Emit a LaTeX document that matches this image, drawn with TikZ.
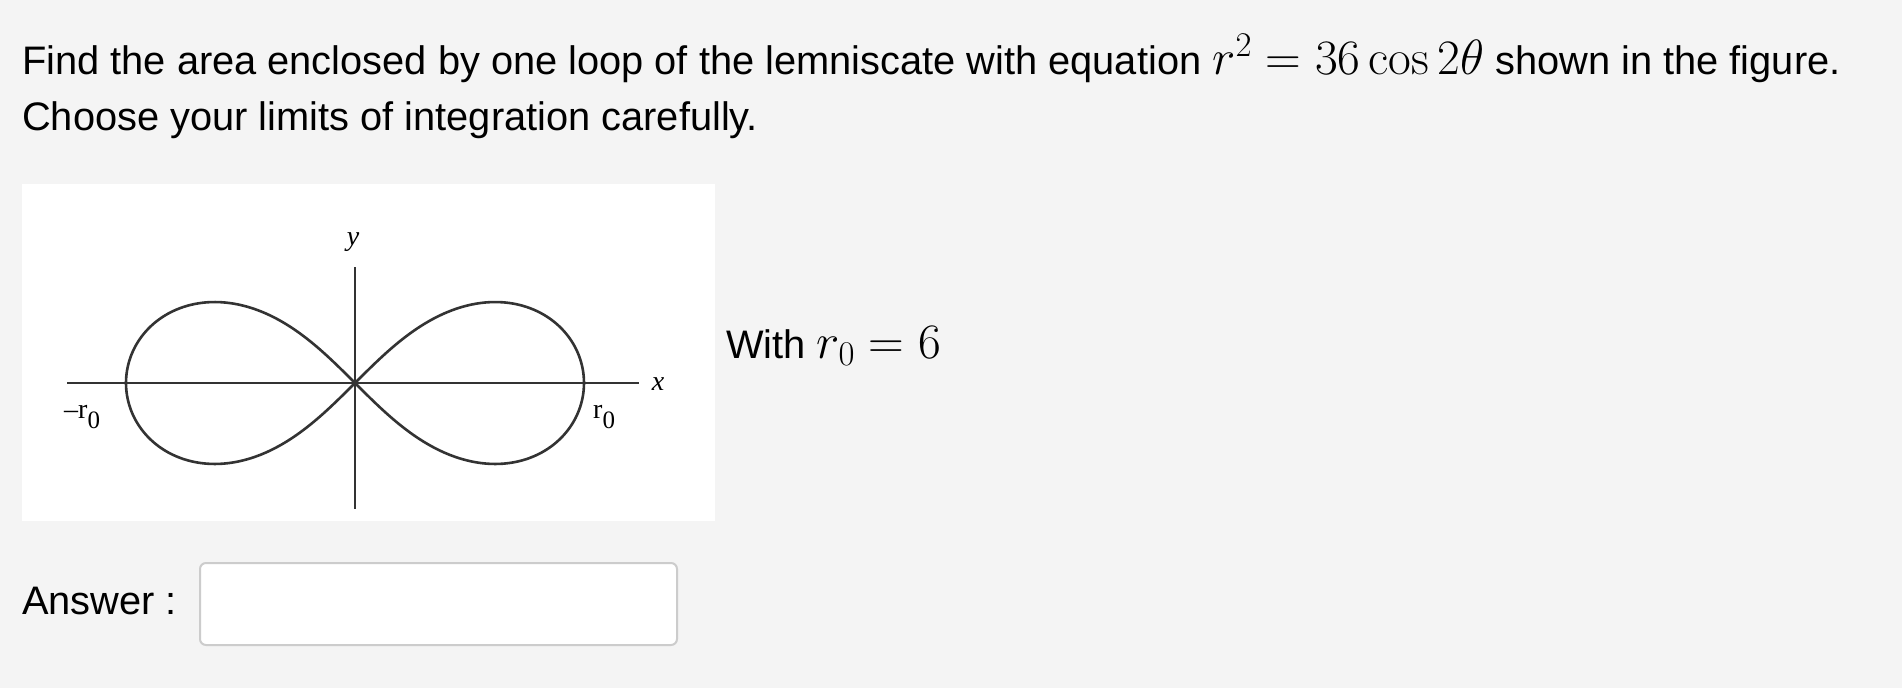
\RequirePackage{fix-cm}
\documentclass[tikz,border=0pt]{standalone}
\usepackage[no-math]{fontspec}
\setmainfont{Liberation Sans}
\newfontfamily\figserif{Liberation Serif}
\newcommand{\bigmath}[1]{{\fontsize{49.5}{58}\selectfont$#1$}}
\definecolor{pagebg}{HTML}{F4F4F4}
\definecolor{curvecol}{HTML}{333333}
\definecolor{boxborder}{HTML}{CCCCCC}
\begin{document}
\begin{tikzpicture}[x=1pt,y=-1pt,
  txt/.style={anchor=base west,inner sep=0pt,font=\fontsize{39.8}{46}\selectfont},
  lbl/.style={inner sep=0pt,font=\figserif\fontsize{28}{30}\selectfont},
  axisline/.style={draw=curvecol,line width=2pt},
  curve/.style={draw=curvecol,line width=2.6pt}]
\fill[pagebg] (0,0) rectangle (1902,688);
\useasboundingbox (0,0) rectangle (1902,688);
% question text
\node[txt] (q1) at (22,74) {Find the area enclosed by one loop of the lemniscate with equation \bigmath{r^2=36\cos 2\theta} shown in the figure.};
\node[txt] (q2) at (22,130) {Choose your limits of integration carefully.};
% figure panel
\fill[white] (22,184) rectangle (715,521);
\coordinate (O) at (355,383);
\coordinate (xl) at (67,383);
\coordinate (xr) at (639,383);
\coordinate (yt) at (355,267);
\coordinate (yb) at (355,509);
\draw[axisline] (xl) -- (xr);
\draw[axisline] (yt) -- (yb);
\begin{scope}[shift={(O)}]
\draw[curve,smooth,samples=240,domain=0:360,variable=\t]
  plot ({229*cos(\t)/(1+sin(\t)^2)},{229*sin(\t)*cos(\t)/(1+sin(\t)^2)}) -- cycle;
\end{scope}
\node[lbl] (ylab) at (353,242) {\textit{y}};
\node[lbl] (xlab) at (658,384) {\textit{x}};
\node[lbl,anchor=base west] (rneg) at (64,418) {\textendash r\raisebox{-0.38em}{\fontsize{25}{26}\selectfont 0}};
\node[lbl,anchor=base west] (rpos) at (593,418) {r\raisebox{-0.38em}{\fontsize{25}{26}\selectfont 0}};
% side note
\node[txt] (with) at (726,358) {With \bigmath{r_0=6}};
% answer
\node[txt] (ans) at (22,614) {Answer :};
\node[draw=boxborder,line width=2pt,fill=white,rounded corners=6pt,minimum width=477pt,minimum height=82pt,inner sep=0pt,anchor=north west] (abox) at (199,562) {};
\end{tikzpicture}
\end{document}
